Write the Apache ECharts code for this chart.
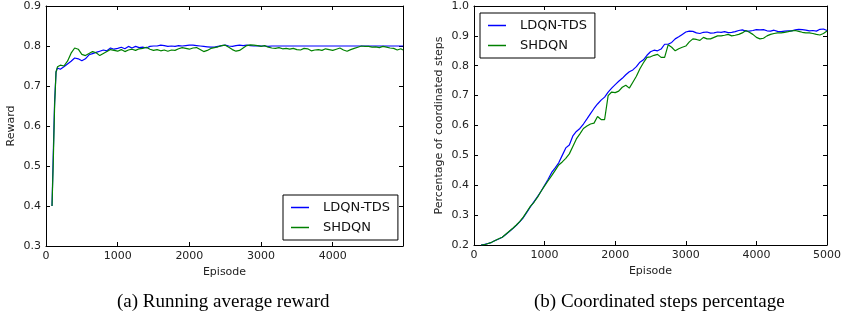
<!DOCTYPE html>
<html><head><meta charset="utf-8">
<script src="https://cdn.jsdelivr.net/npm/echarts@6/dist/echarts.min.js"></script>
<style>html,body{margin:0;padding:0;background:#fff}#c{width:844px;height:326px}</style>
</head><body><div id="c"></div>
<script>
var seriesNames = ['LDQN-TDS', 'SHDQN'];
var leftYTicks = [0.3, 0.4, 0.5, 0.6, 0.7, 0.8, 0.9];
var rightYTicks = [0.2, 0.3, 0.4, 0.5, 0.6, 0.7, 0.8, 0.9, 1.0];
var captions = ['(a) Running average reward', '(b) Coordinated steps percentage'];

var leftEpisodes = [84,100,120,140,160,200,250,300,350,400,450,500,550,600,650,700,750,800,850,900,950,1000,1050,1100,1150,1200,1250,1300,1350,1400,1450,1500,1550,1600,1650,1700,1750,1800,1850,1900,1950,2000,2050,2100,2150,2200,2250,2300,2350,2400,2450,2500,2550,2600,2650,2700,2750,2800,2850,2900,2950,3000,3050,3100,3150,3200,3250,3300,3350,3400,3450,3500,3550,3600,3650,3700,3750,3800,3850,3900,3950,4000,4050,4100,4150,4200,4250,4300,4350,4400,4450,4500,4550,4600,4650,4700,4750,4800,4850,4900,4950,4980];
var leftLDQN = [0.40,0.52,0.66,0.735,0.745,0.742,0.748,0.755,0.762,0.770,0.768,0.763,0.768,0.778,0.781,0.784,0.787,0.790,0.788,0.795,0.792,0.794,0.797,0.793,0.799,0.795,0.799,0.796,0.797,0.795,0.799,0.800,0.800,0.802,0.801,0.799,0.800,0.799,0.801,0.800,0.801,0.802,0.802,0.801,0.800,0.799,0.798,0.797,0.797,0.799,0.801,0.802,0.800,0.799,0.801,0.802,0.801,0.802,0.801,0.800,0.801,0.800,0.800,0.799,0.800,0.800,0.800,0.800,0.800,0.800,0.800,0.800,0.800,0.800,0.800,0.800,0.800,0.800,0.800,0.800,0.800,0.800,0.800,0.800,0.800,0.800,0.800,0.800,0.800,0.800,0.800,0.800,0.800,0.800,0.800,0.800,0.800,0.800,0.800,0.800,0.800,0.800];
var leftSHDQN = [0.40,0.50,0.65,0.735,0.748,0.752,0.750,0.762,0.782,0.795,0.792,0.779,0.776,0.781,0.786,0.783,0.776,0.781,0.786,0.791,0.789,0.787,0.791,0.786,0.790,0.792,0.789,0.793,0.794,0.797,0.792,0.789,0.791,0.788,0.790,0.787,0.790,0.789,0.793,0.796,0.794,0.792,0.795,0.796,0.791,0.786,0.789,0.794,0.796,0.798,0.801,0.802,0.797,0.791,0.787,0.789,0.795,0.801,0.803,0.802,0.801,0.799,0.801,0.797,0.795,0.794,0.796,0.793,0.794,0.792,0.794,0.791,0.790,0.794,0.793,0.788,0.790,0.791,0.789,0.793,0.791,0.789,0.792,0.795,0.790,0.787,0.791,0.794,0.797,0.800,0.799,0.799,0.797,0.798,0.796,0.799,0.797,0.795,0.794,0.790,0.793,0.790];

var rightEpisodes = [100,150,200,250,300,350,400,450,500,550,600,650,700,750,800,850,900,950,1000,1050,1100,1150,1200,1250,1300,1350,1400,1450,1500,1550,1600,1650,1700,1750,1800,1850,1900,1950,2000,2050,2100,2150,2200,2250,2300,2350,2400,2450,2500,2550,2600,2650,2700,2750,2800,2850,2900,2950,3000,3050,3100,3150,3200,3250,3300,3350,3400,3450,3500,3550,3600,3650,3700,3750,3800,3850,3900,3950,4000,4050,4100,4150,4200,4250,4300,4350,4400,4450,4500,4550,4600,4650,4700,4750,4800,4850,4900,4950,5000];
var rightLDQN = [0.200,0.202,0.205,0.209,0.215,0.220,0.226,0.235,0.245,0.255,0.266,0.278,0.292,0.310,0.328,0.345,0.362,0.380,0.400,0.420,0.443,0.458,0.475,0.500,0.525,0.535,0.565,0.580,0.590,0.605,0.622,0.640,0.657,0.672,0.685,0.695,0.712,0.725,0.737,0.748,0.758,0.770,0.780,0.786,0.797,0.812,0.820,0.835,0.847,0.852,0.850,0.856,0.872,0.872,0.878,0.890,0.897,0.905,0.913,0.916,0.915,0.910,0.908,0.912,0.913,0.909,0.910,0.913,0.912,0.914,0.911,0.912,0.914,0.918,0.920,0.916,0.916,0.918,0.921,0.920,0.921,0.917,0.916,0.919,0.915,0.914,0.916,0.917,0.917,0.920,0.922,0.921,0.919,0.917,0.918,0.916,0.922,0.923,0.918];
var rightSHDQN = [0.200,0.201,0.205,0.209,0.215,0.221,0.226,0.236,0.246,0.256,0.267,0.279,0.294,0.312,0.330,0.343,0.360,0.380,0.398,0.415,0.432,0.450,0.468,0.478,0.490,0.505,0.530,0.555,0.572,0.590,0.598,0.605,0.608,0.630,0.620,0.620,0.700,0.712,0.710,0.715,0.728,0.735,0.725,0.745,0.765,0.790,0.810,0.828,0.830,0.835,0.838,0.828,0.828,0.870,0.862,0.850,0.857,0.862,0.866,0.880,0.890,0.888,0.885,0.895,0.890,0.890,0.895,0.900,0.900,0.902,0.905,0.900,0.902,0.905,0.910,0.918,0.912,0.905,0.895,0.890,0.892,0.900,0.905,0.908,0.910,0.910,0.912,0.914,0.917,0.918,0.915,0.912,0.910,0.910,0.908,0.905,0.903,0.908,0.916];

function pairs(xs, ys) { return xs.map(function (x, i) { return [x, ys[i]]; }); }

var FONT = 'DejaVu Sans';
var txt = '#222';
function xAx(gi, max, show, showMax) {
  return {
    type: 'value', gridIndex: gi, min: 0, max: max, interval: 1000,
    position: show ? 'bottom' : 'top',
    name: show ? 'Episode' : '', nameLocation: 'middle', nameGap: 18,
    nameTextStyle: { fontFamily: FONT, fontSize: 11, color: txt },
    axisLine: { show: true, onZero: false, lineStyle: { color: '#000', width: 1 } },
    axisTick: { show: true, inside: true, length: 4, lineStyle: { color: '#000' } },
    axisLabel: { show: show, fontFamily: FONT, fontSize: 11, color: txt, margin: 5,
      showMaxLabel: showMax, formatter: function (v) { return String(Math.round(v)); } },
    splitLine: { show: false }
  };
}
function yAx(gi, ticks, name, show) {
  return {
    type: 'value', gridIndex: gi, min: ticks[0], max: ticks[ticks.length - 1], interval: 0.1,
    position: show ? 'left' : 'right',
    name: show ? name : '', nameLocation: 'middle', nameGap: 29, nameRotate: 90,
    nameTextStyle: { fontFamily: FONT, fontSize: 11, color: txt },
    axisLine: { show: true, onZero: false, lineStyle: { color: '#000', width: 1 } },
    axisTick: { show: true, inside: true, length: 4, lineStyle: { color: '#000' } },
    axisLabel: { show: show, fontFamily: FONT, fontSize: 11, color: txt, margin: 5,
      formatter: function (v) { return v.toFixed(1); } },
    splitLine: { show: false }
  };
}
function legendAt(left, top) {
  return {
    left: left, top: top, orient: 'vertical', selectedMode: false,
    data: seriesNames, itemWidth: 18, itemHeight: 1.5, icon: 'rect', itemGap: 7,
    padding: [6, 8, 6, 8], borderColor: '#000', borderWidth: 1, backgroundColor: '#fff',
    textStyle: { fontFamily: FONT, fontSize: 13, color: '#111', padding: [0, 0, 0, 9] }
  };
}
function line(name, color, xi, yi, data) {
  return { name: name, type: 'line', xAxisIndex: xi, yAxisIndex: yi, data: data,
    showSymbol: false, symbol: 'none', animation: false,
    lineStyle: { color: color, width: 1.2 }, itemStyle: { color: color } };
}

var chart = echarts.init(document.getElementById('c'), null, { renderer: 'canvas' });
chart.setOption({
  backgroundColor: '#fff',
  animation: false,
  grid: [
    { left: 46, top: 6, width: 357, height: 240 },
    { left: 474, top: 6, width: 358, height: 239 }
  ],
  xAxis: [xAx(0, 4980, true, false), xAx(1, 5000, true, true), xAx(0, 4980, false, false), xAx(1, 5000, false, false)],
  yAxis: [yAx(0, leftYTicks, 'Reward', true), yAx(1, rightYTicks, 'Percentage of coordinated steps', true),
          yAx(0, leftYTicks, '', false), yAx(1, rightYTicks, '', false)],
  legend: [legendAt(283, 195), legendAt(480, 13)],
  series: [
    line(seriesNames[0], '#0000ff', 0, 0, pairs(leftEpisodes, leftLDQN)),
    line(seriesNames[1], '#008000', 0, 0, pairs(leftEpisodes, leftSHDQN)),
    line(seriesNames[0], '#0000ff', 1, 1, pairs(rightEpisodes, rightLDQN)),
    line(seriesNames[1], '#008000', 1, 1, pairs(rightEpisodes, rightSHDQN))
  ],
  graphic: [
    { type: 'text', left: 225 - 108, top: 293, style: { text: captions[0], font: '19px "Liberation Serif"', fill: '#000' } },
    { type: 'text', left: 652 - 118, top: 293, style: { text: captions[1], font: '19px "Liberation Serif"', fill: '#000' } }
  ]
});
</script></body></html>
